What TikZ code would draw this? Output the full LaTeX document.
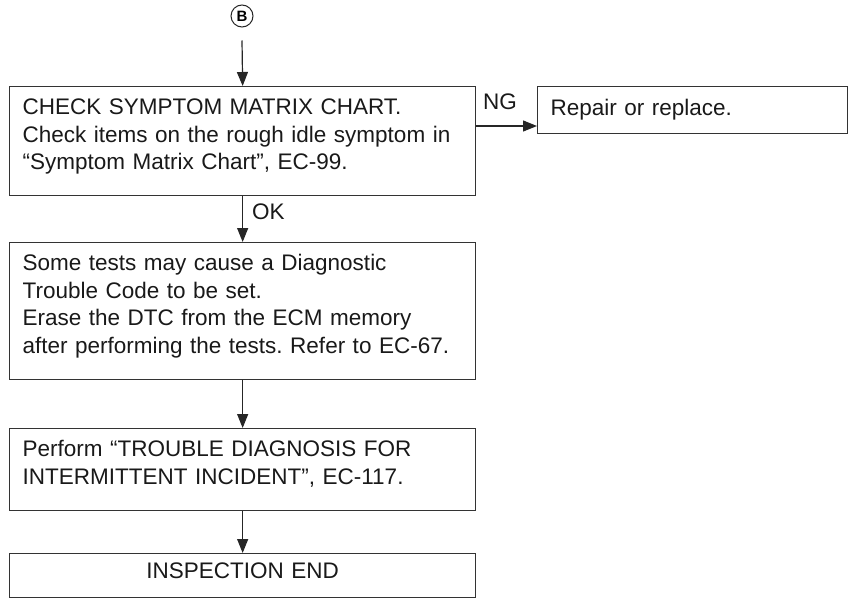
\documentclass[tikz,border=0pt]{standalone}
\usepackage{fontspec}
\setmainfont{Liberation Sans}
\usetikzlibrary{arrows.meta}
\frenchspacing
\begin{document}
\begin{tikzpicture}[x=1pt,y=-1pt,
  txt/.style={font=\fontsize{22.5}{27.5}\selectfont\frenchspacing, text=black!90},
  box/.style={txt, draw=black!80, line width=1.3pt, rectangle, anchor=north west,
    text width=440pt, inner xsep=13pt, inner ysep=0pt, align=left},
  endbox/.style={box, align=center, minimum height=44pt},
  sidebox/.style={txt, draw=black!80, line width=1.3pt, rectangle, anchor=north west,
    text width=284pt, inner xsep=13pt, inner ysep=0pt, align=left, minimum height=47pt},
  arr/.style={draw=black!85, line width=1.2pt, -{Triangle[length=14pt,width=11pt]}},
  lbl/.style={txt, inner sep=0pt, anchor=base west}]
\useasboundingbox (0,0) rectangle (850,599);

\node[draw=black!85, circle, line width=1pt, minimum size=22pt, inner sep=0pt,
  font=\bfseries\fontsize{15}{15}\selectfont] (cB) at (242,16) {B};

\node[box] (b1) at (9,86) {\rule{0pt}{28pt}CHECK SYMPTOM MATRIX CHART.\\
Check items on the rough idle symptom in\\
“Symptom Matrix Chart”, EC-99.\rule[-26pt]{0pt}{26pt}};

\node[sidebox] (ng) at (537,86) {Repair or replace.};

\node[box] (b2) at (9,242) {\rule{0pt}{28pt}Some tests may cause a Diagnostic\\
Trouble Code to be set.\\
Erase the DTC from the ECM memory\\
after performing the tests. Refer to EC-67.\rule[-26pt]{0pt}{26pt}};

\node[box] (b3) at (9,428) {\rule{0pt}{28pt}Perform “TROUBLE DIAGNOSIS FOR\\
INTERMITTENT INCIDENT”, EC-117.\rule[-26pt]{0pt}{26pt}};

\node[endbox] (b4) at (9,553) {INSPECTION END\rule[-10pt]{0pt}{10pt}};

\draw[arr] ([yshift=-13pt]cB.south) -- (b1.north);
\draw[arr] (b1.east |- 0,126) -- (ng.west |- 0,126);
\node[lbl] (ngl) at (483,110) {NG};
\draw[arr] (b1.south) -- (b2.north);
\node[lbl] (okl) at (252,219) {OK};
\draw[arr] (b2.south) -- (b3.north);
\draw[arr] (b3.south) -- (b4.north);
\end{tikzpicture}
\end{document}
